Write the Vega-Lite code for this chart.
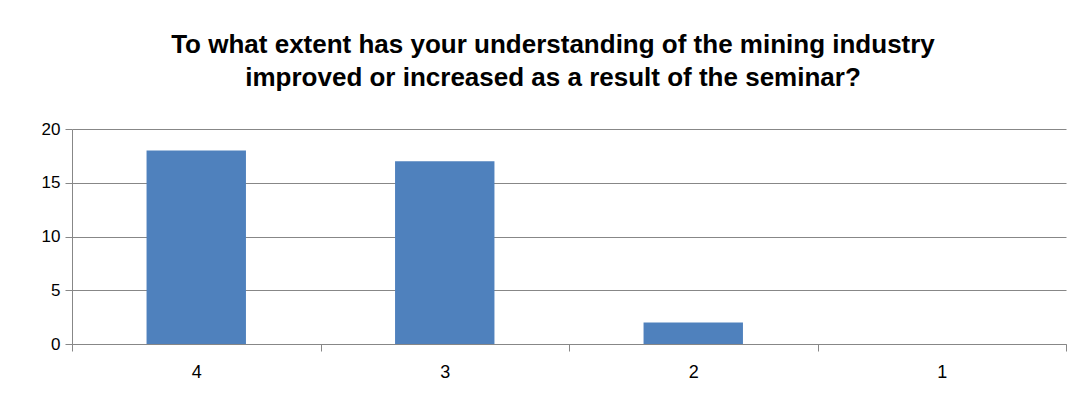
{
  "$schema": "https://vega.github.io/schema/vega-lite/v6.json",
  "autosize": {"type": "none"},
  "padding": {"left": 72, "top": 129, "right": 16, "bottom": 58},
  "width": 994,
  "height": 215,
  "background": "white",
  "title": {
    "text": ["To what extent has your understanding of the mining industry", "improved or increased as a result of the seminar?"],
    "font": "Liberation Sans",
    "fontSize": 26,
    "fontWeight": "bold",
    "color": "#000000",
    "lineHeight": 33,
    "anchor": "middle",
    "dx": -16,
    "offset": 29
  },
  "data": {
    "values": [
      {"rating": "4", "count": 18},
      {"rating": "3", "count": 17},
      {"rating": "2", "count": 2},
      {"rating": "1", "count": 0}
    ]
  },
  "mark": {"type": "bar", "color": "#4F81BD", "width": {"band": 0.4}},
  "encoding": {
    "x": {
      "field": "rating",
      "type": "nominal",
      "sort": ["4", "3", "2", "1"],
      "title": null,
      "scale": {"paddingInner": 0, "paddingOuter": 0},
      "axis": {
        "labelAngle": 0,
        "labelFont": "Liberation Sans",
        "labelFontSize": 18,
        "labelColor": "#000000",
        "labelPadding": 12,
        "tickBand": "extent",
        "tickSize": 7,
        "tickColor": "#878787",
        "domainColor": "#878787",
        "grid": false
      }
    },
    "y": {
      "field": "count",
      "type": "quantitative",
      "title": null,
      "scale": {"domain": [0, 20]},
      "axis": {
        "values": [0, 5, 10, 15, 20],
        "labelFont": "Liberation Sans",
        "labelFontSize": 17,
        "labelColor": "#000000",
        "labelPadding": 5,
        "tickSize": 7,
        "tickColor": "#878787",
        "domainColor": "#878787",
        "gridColor": "#878787",
        "gridOpacity": 1
      }
    }
  },
  "config": {"view": {"stroke": null}}
}
